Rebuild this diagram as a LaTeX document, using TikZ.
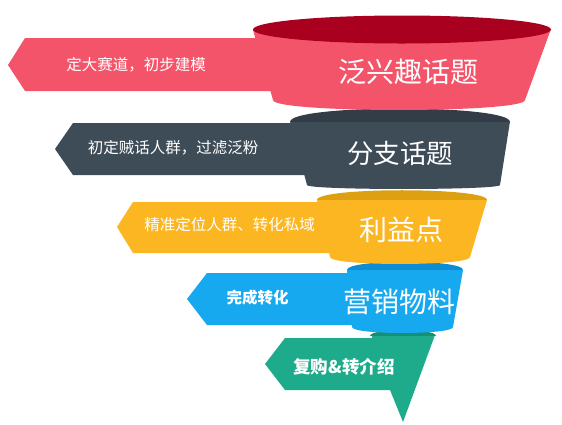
\documentclass[tikz,border=0pt]{standalone}
\usepackage{fontspec}
\setmainfont{Noto Sans CJK SC}
\definecolor{redb}{RGB}{244,84,106}
\definecolor{redc}{RGB}{168,0,30}
\definecolor{grayb}{RGB}{62,76,88}
\definecolor{grayc}{RGB}{50,61,71}
\definecolor{yelb}{RGB}{251,182,33}
\definecolor{yelc}{RGB}{220,160,18}
\definecolor{blub}{RGB}{23,169,239}
\definecolor{bluc}{RGB}{16,140,210}
\definecolor{grnb}{RGB}{29,171,139}
\definecolor{grnc}{RGB}{22,143,115}
\tikzset{
  lbl/.style={text=white, inner sep=0pt, font=\fontsize{15.5}{18}\selectfont},
  ttl/.style={text=white, inner sep=0pt, font=\fontsize{28}{32}\selectfont},
}
\begin{document}
\begin{tikzpicture}[x=1pt,y=-1pt]
\useasboundingbox (0,0) rectangle (562,424);
% green
\fill[grnb] (285,338) -- (372,338) -- (372,335) -- (435,335) -- (403,422) -- (390,390) -- (285,390) -- (265,364) -- cycle;
\fill[grnc] (370,336) .. controls (370,328) and (436,328) .. (436,336) -- cycle;
\node[lbl, font=\fontsize{17.5}{20}\selectfont\bfseries] (g) at (344,367) {复购\&转介绍};
% blue
\fill[blub] (207,273) -- (360,273) -- (360,325) -- (207,325) -- (187,299) -- cycle;
\fill[blub] (347,270) -- (352,327) .. controls (352,335) and (453,335) .. (453,327) -- (463,270) -- cycle;
\fill[bluc] (347,270) .. controls (347,259) and (463,259) .. (463,270) -- cycle;
\node[lbl, font=\fontsize{15.5}{18}\selectfont\bfseries] (b) at (257.5,298) {完成转化};
\node[ttl] (bt) at (399,302) {营销物料};
% yellow
\fill[yelb] (133,202) -- (340,202) -- (340,253) -- (133,253) -- (117,227) -- cycle;
\fill[yelb] (317,200) -- (330,257) .. controls (330,266.3) and (470,266.3) .. (470,257) -- (487,200) -- cycle;
\fill[yelc] (317,200) .. controls (317,186.7) and (487,186.7) .. (487,200) -- cycle;
\node[lbl] (y) at (229.5,225) {精准定位人群、转化私域};
\node[ttl] (yt) at (401,230) {利益点};
% gray
\fill[grayb] (73,123) -- (320,123) -- (320,175) -- (73,175) -- (55,149) -- cycle;
\fill[grayb] (290,121.5) -- (307,185) .. controls (307,190.3) and (500,190.3) .. (500,185) -- (510,121.5) -- cycle;
\fill[grayc] (290,121.5) .. controls (290,104.2) and (510,104.2) .. (510,121.5) -- cycle;
\node[lbl] (d) at (173,148) {初定贼话人群，过滤泛粉};
\node[ttl, font=\fontsize{26.5}{30}\selectfont] (dt) at (400,153) {分支话题};
% red
\fill[redb] (25,38) -- (300,38) -- (300,91) -- (25,91) -- (8,65) -- cycle;
\fill[redb] (253,30) -- (273,100) .. controls (273,113.3) and (525,113.3) .. (525,100) -- (551,29) -- cycle;
\fill[redc] (402,29.5) ellipse [x radius=149, y radius=14];
\node[lbl] (r) at (136,65) {定大赛道，初步建模};
\node[ttl] (rt) at (408,72) {泛兴趣话题};
\end{tikzpicture}
\end{document}
